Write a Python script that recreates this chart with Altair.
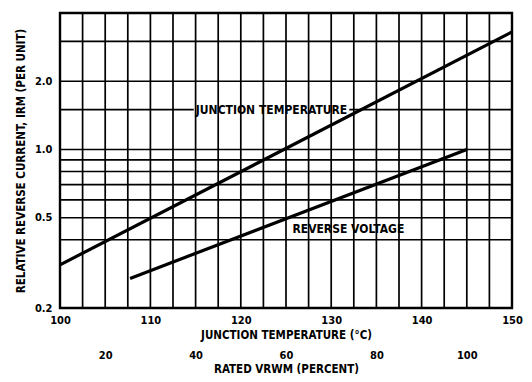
import altair as alt
import pandas as pd

# Junction-temperature curve (x: junction temperature, deg C)
jt_temp = [100, 150]
jt_current = [0.31, 3.3]
# Reverse-voltage curve (x: rated VRWM, percent)
rv_percent = [25.5, 100]
rv_current = [0.27, 1.0]

# chart-paper grid
grid_temp = [100, 102.5, 105, 107.5, 110, 112.5, 115, 117.5, 120, 122.5, 125,
             127.5, 130, 132.5, 135, 137.5, 140, 142.5, 145, 147.5, 150]
grid_current = [0.2, 0.4, 0.5, 0.6, 0.7, 0.8, 0.9, 1.0, 2.0, 3.0, 4.0]
# the 1.5 line is interrupted by the "JUNCTION TEMPERATURE" label
split_current = [1.5, 1.5]
split_from = [100, 132.0]
split_to = [114.8, 150]

temp_ticks = [100, 110, 120, 130, 140, 150]
pct_ticks = [20, 40, 60, 80, 100]
current_ticks = [0.2, 0.5, 1.0, 2.0]

label_text = ["JUNCTION TEMPERATURE", "REVERSE VOLTAGE"]
label_temp = [123.4, 131.9]
label_current = [1.5, 0.447]

FONT = "Liberation Sans Narrow, DejaVu Sans Condensed, Arial Narrow, sans-serif"

t_scale = alt.Scale(domain=[100, 150], nice=False, zero=False)
p_scale = alt.Scale(domain=[10, 110], nice=False, zero=False)
c_scale = alt.Scale(type="log", domain=[0.2, 4.0], nice=False)

Y_TITLE = "RELATIVE REVERSE CURRENT, IRM (PER UNIT)"
GRID_W = 1.7


def y_axis():
    return alt.Axis(orient="left", values=current_ticks, format=".1f", grid=False,
                    ticks=False, domain=False, labelPadding=8, titlePadding=8,
                    labelFlush=False, labelOverlap=False, title=Y_TITLE)


def yc():
    return alt.Y("c:Q", scale=c_scale, axis=y_axis(), title=Y_TITLE)


vgrid = alt.Chart(pd.DataFrame({"t": grid_temp})).mark_rule(
    color="black", strokeWidth=GRID_W
).encode(x=alt.X("t:Q", scale=t_scale, axis=None))

hgrid = alt.Chart(pd.DataFrame({"c": grid_current})).mark_rule(
    color="black", strokeWidth=GRID_W
).encode(y=yc())

split = alt.Chart(pd.DataFrame({"t": split_from, "t2": split_to, "c": split_current})).mark_rule(
    color="black", strokeWidth=GRID_W
).encode(
    x=alt.X("t:Q", scale=t_scale, axis=None),
    x2="t2:Q",
    y=yc(),
)

jt = alt.Chart(pd.DataFrame({"t": jt_temp, "c": jt_current})).mark_line(
    color="black", strokeWidth=3.2
).encode(
    x=alt.X("t:Q", scale=t_scale,
            axis=alt.Axis(orient="bottom", values=temp_ticks, format="d", grid=False,
                          ticks=False, domain=False, labelPadding=6, titlePadding=4,
                          labelFlush=False, labelOverlap=False,
                          title="JUNCTION TEMPERATURE (°C)")),
    y=yc(),
)

labels = alt.Chart(pd.DataFrame({"t": label_temp, "c": label_current, "s": label_text})).mark_text(
    font=FONT, fontSize=12, fontWeight="bold", color="black", align="center", baseline="middle"
).encode(
    x=alt.X("t:Q", scale=t_scale, axis=None),
    y=yc(),
    text="s:N",
)

rv = alt.Chart(pd.DataFrame({"p": rv_percent, "c": rv_current})).mark_line(
    color="black", strokeWidth=3.2
).encode(
    x=alt.X("p:Q", scale=p_scale,
            axis=alt.Axis(orient="bottom", offset=38, values=pct_ticks, format="d",
                          grid=False, ticks=False, domain=False, labelPadding=3,
                          titlePadding=3, labelFlush=False, labelOverlap=False,
                          title="RATED VRWM (PERCENT)")),
    y=yc(),
)

chart = alt.layer(vgrid, hgrid, split, jt, labels, rv).resolve_scale(
    x="independent"
).properties(
    width=452, height=295,
    padding={"left": 52, "top": 5, "right": 12, "bottom": 66},
    autosize=alt.AutoSizeParams(type="none"),
).configure_view(
    stroke="black", strokeWidth=2.4
).configure_axis(
    labelFont=FONT, labelFontSize=11, labelFontWeight="bold", labelColor="black",
    titleFont=FONT, titleFontSize=11.5, titleFontWeight="bold", titleColor="black",
)

chart.save("out.html", embed_options={"renderer": "svg", "actions": False})
